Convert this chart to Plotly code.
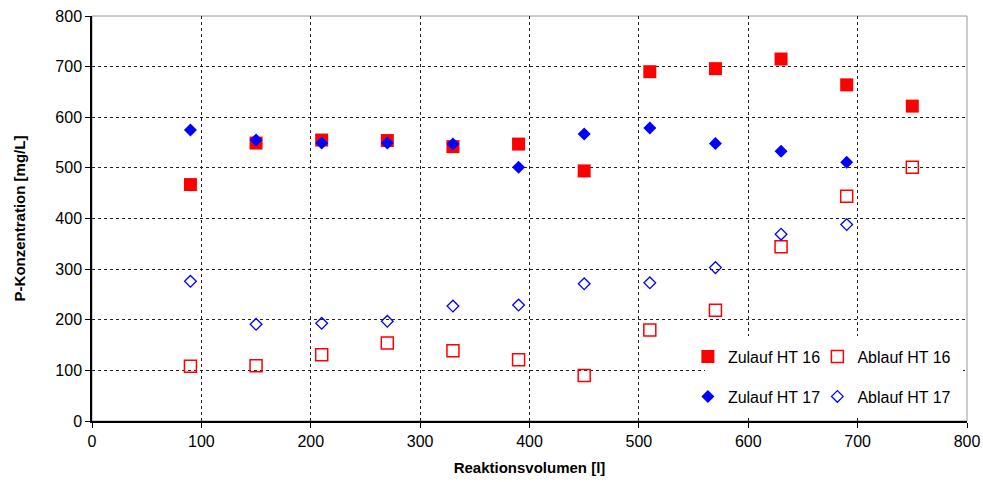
import plotly.graph_objects as go

# Reaktionsvolumen [l]
volumen = [90, 150, 210, 270, 330, 390, 450, 510, 570, 630, 690, 750]
volumen_ht17 = [90, 150, 210, 270, 330, 390, 450, 510, 570, 630, 690]

# P-Konzentration [mg/L]
zulauf_ht16 = [467, 549, 555, 554, 542, 547, 494, 690, 696, 715, 664, 622]
ablauf_ht16 = [108, 109, 131, 154, 139, 121, 90, 180, 219, 344, 444, 501]
zulauf_ht17 = [575, 555, 549, 549, 547, 501, 567, 579, 548, 533, 511]
ablauf_ht17 = [276, 191, 193, 197, 227, 229, 271, 273, 303, 369, 388]

RED = "#FF0000"
BLUE = "#0000FF"

fig = go.Figure()

fig.add_trace(go.Scatter(
    x=volumen, y=zulauf_ht16, mode="markers", name="Zulauf HT 16",
    marker=dict(symbol="square", size=13, color=RED, line=dict(width=0)),
    legend="legend", legendgroup="a",
))
fig.add_trace(go.Scatter(
    x=volumen_ht17, y=zulauf_ht17, mode="markers", name="Zulauf HT 17",
    marker=dict(symbol="diamond", size=10, color=BLUE, line=dict(width=0)),
    legend="legend", legendgroup="b",
))
fig.add_trace(go.Scatter(
    x=volumen, y=ablauf_ht16, mode="markers", name="Ablauf HT 16",
    marker=dict(symbol="square-open", size=12, color=RED, line=dict(width=1.5)),
    legend="legend2", legendgroup="c",
))
fig.add_trace(go.Scatter(
    x=volumen_ht17, y=ablauf_ht17, mode="markers", name="Ablauf HT 17",
    marker=dict(symbol="diamond-open", size=9, color=BLUE, line=dict(width=1.3)),
    legend="legend2", legendgroup="d",
))

# grey frame top/right
fig.add_shape(type="rect", xref="paper", yref="paper", x0=0, y0=0, x1=1, y1=1,
              line=dict(color="#9a9a9a", width=1), layer="below")
# white legend box hiding the grid
fig.add_shape(type="rect", xref="paper", yref="paper", x0=0.7006, y0=0.0148, x1=0.9954, y1=0.2099,
              line=dict(width=0), fillcolor="white", layer="above")

legend_style = dict(
    bgcolor="rgba(0,0,0,0)", borderwidth=0, font=dict(family="Liberation Sans, Arial", size=16, color="black"),
    yanchor="bottom", y=0.018, xanchor="left", orientation="v",
    traceorder="grouped", tracegroupgap=16, itemwidth=30,
)

axis_style = dict(
    range=[0, 800], dtick=100, tick0=0,
    showgrid=True, gridcolor="#222", griddash="dot", gridwidth=1,
    showline=True, linecolor="black", linewidth=1.5,
    ticks="outside", ticklen=5, tickcolor="black",
    tickfont=dict(size=16), zeroline=False, automargin=False,
)

fig.update_layout(
    width=983, height=482,
    margin=dict(l=92, r=16, t=16, b=61),
    plot_bgcolor="white", paper_bgcolor="white",
    font=dict(family="Liberation Sans, Arial", size=16, color="black"),
    showlegend=True,
    legend=dict(**legend_style, x=0.681),
    legend2=dict(**legend_style, x=0.829),
    xaxis=dict(**axis_style,
               title=dict(text="<b>Reaktionsvolumen [l]</b>", font=dict(size=15), standoff=14)),
    yaxis=dict(**axis_style,
               title=dict(text="<b>P-Konzentration [mg/L]</b>", font=dict(size=15), standoff=26)),
)

fig.write_html("out.html", config={"displayModeBar": False},
               post_script="document.body.style.margin='0';")
